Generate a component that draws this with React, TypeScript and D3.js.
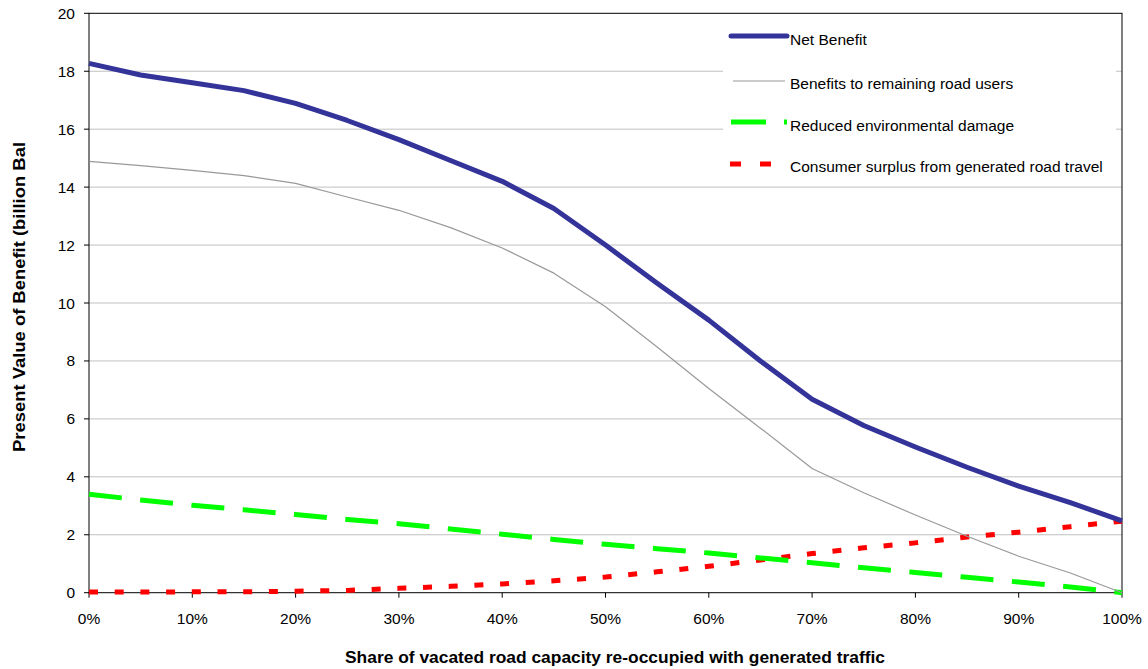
import React from "react";
import * as d3 from "d3";

const xPct = [0, 5, 10, 15, 20, 25, 30, 35, 40, 45, 50, 55, 60, 65, 70, 75, 80, 85, 90, 95, 100];
const netBenefit = [18.27, 17.87, 17.6, 17.33, 16.89, 16.3, 15.64, 14.92, 14.2, 13.26, 12.0, 10.68, 9.41, 8.0, 6.68, 5.77, 5.03, 4.33, 3.68, 3.11, 2.48];
const roadUsers = [14.89, 14.74, 14.58, 14.4, 14.13, 13.66, 13.2, 12.6, 11.9, 11.03, 9.87, 8.48, 7.05, 5.68, 4.29, 3.45, 2.68, 1.95, 1.26, 0.68, 0];
const envDamage = [3.4, 3.2, 3.02, 2.86, 2.7, 2.53, 2.38, 2.2, 2.02, 1.84, 1.67, 1.52, 1.37, 1.2, 1.03, 0.86, 0.7, 0.53, 0.37, 0.2, 0];
const consumerSurplus = [0.02, 0.02, 0.03, 0.03, 0.05, 0.08, 0.15, 0.22, 0.3, 0.41, 0.54, 0.72, 0.91, 1.13, 1.35, 1.55, 1.72, 1.92, 2.09, 2.28, 2.47];
const yTicks = [0, 2, 4, 6, 8, 10, 12, 14, 16, 18, 20];
const xTicks = [0, 10, 20, 30, 40, 50, 60, 70, 80, 90, 100];

const seriesDefs = [
  { name: "Net Benefit", values: netBenefit, color: "#333399", width: 5, dash: "", legendDash: "", lx1: 731, lx2: 787, ly: 36, ty: 44.5 },
  { name: "Benefits to remaining road users", values: roadUsers, color: "#999999", width: 1.2, dash: "", legendDash: "", lx1: 733, lx2: 785, ly: 81, ty: 88.8 },
  { name: "Reduced environmental damage", values: envDamage, color: "#00ff00", width: 5, dash: "33 18.5", legendDash: "35 18", lx1: 731, lx2: 787, ly: 122, ty: 130.5 },
  { name: "Consumer surplus from generated road travel", values: consumerSurplus, color: "#ff0000", width: 5, dash: "9 16.7", legendDash: "11 19", lx1: 730, lx2: 787, ly: 164, ty: 172.2 },
];

export default function App() {
  const W = 1148, H = 669;
  const L = 89, R = 1122, T = 13.3, B = 592.7;
  const x = d3.scaleLinear().domain([0, 100]).range([L, R]);
  const y = d3.scaleLinear().domain([0, 20]).range([B, T]);
  const font = "'Liberation Sans', Arial, sans-serif";
  const line = d3.line<number>().x((_, i) => x(xPct[i])).y((d) => y(d));

  return (
    <svg width={W} height={H} style={{ position: "absolute", left: 0, top: 0, fontFamily: font }}>
      <rect x={0} y={0} width={W} height={H} fill="#fff" />
      {yTicks.filter((t) => t > 0 && t < 20).map((t) => (
        <line key={t} x1={L} x2={R} y1={y(t)} y2={y(t)} stroke="#c0c0c0" strokeWidth={1} />
      ))}
      <rect x={L} y={T} width={R - L} height={B - T} fill="none" stroke="#000" strokeWidth={1} />
      {yTicks.map((t) => (
        <g key={t}>
          <line x1={L - 5} x2={L} y1={y(t)} y2={y(t)} stroke="#000" />
          <text x={75} y={y(t) + 5.5} textAnchor="end" fontSize={15.5}>{t}</text>
        </g>
      ))}
      {xTicks.map((t) => (
        <g key={t}>
          <line x1={x(t)} x2={x(t)} y1={B} y2={B + 5} stroke="#000" />
          <text x={x(t)} y={624} textAnchor="middle" fontSize={15.5}>{t}%</text>
        </g>
      ))}
      <rect x={723} y={19} width={393} height={162} fill="#fff" />
      {seriesDefs.slice().reverse().map((s) => (
        <path key={s.name} d={line(s.values) || ""} fill="none" stroke={s.color} strokeWidth={s.width}
          strokeDasharray={s.dash || undefined} strokeLinejoin="round" />
      ))}
      {seriesDefs.map((s, i) => (
        <g key={s.name}>
          <line x1={s.lx1} x2={s.lx2} y1={s.ly} y2={s.ly} stroke={s.color}
            strokeWidth={s.width} strokeDasharray={s.legendDash || undefined} strokeLinecap={i === 0 ? "round" : "butt"} />
          <text x={790} y={s.ty} fontSize={15.5}>{s.name}</text>
        </g>
      ))}
      <text x={615} y={663} textAnchor="middle" fontSize={16} fontWeight="bold" textLength={540} lengthAdjust="spacingAndGlyphs">
        Share of vacated road capacity re-occupied with generated traffic
      </text>
      <text transform={`translate(25, 297) rotate(-90)`} textAnchor="middle" fontSize={16} fontWeight="bold" textLength={310} lengthAdjust="spacingAndGlyphs">
        Present Value of Benefit (billion Bal
      </text>
    </svg>
  );
}
